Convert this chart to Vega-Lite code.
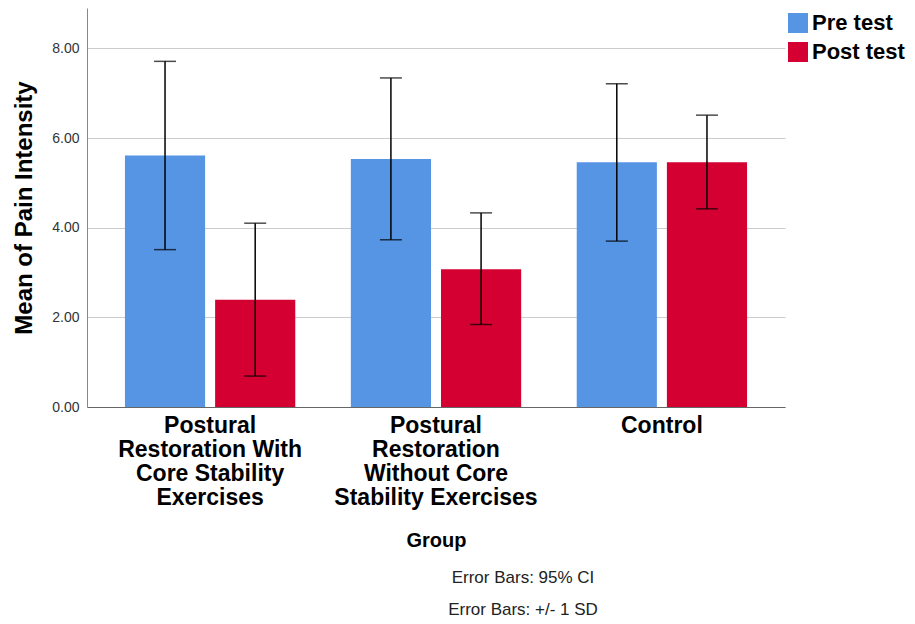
{
  "$schema": "https://vega.github.io/schema/vega-lite/v6.json",
  "width": 698,
  "height": 399,
  "autosize": "none",
  "padding": {"left": 87, "top": 8, "right": 130, "bottom": 217},
  "background": "white",
  "config": {
    "font": "Liberation Sans",
    "view": {"stroke": null},
    "title": {"font": "Liberation Sans"}
  },
  "title": {
    "text": "Error Bars: 95% CI",
    "subtitle": "Error Bars:  +/- 1 SD",
    "orient": "bottom",
    "anchor": "middle",
    "dx": 87,
    "offset": 20,
    "fontSize": 17,
    "fontWeight": "normal",
    "color": "#222222",
    "subtitleFontSize": 17,
    "subtitleColor": "#222222",
    "subtitlePadding": 15
  },
  "data": {
    "values": [
      {"group": "Postural Restoration With Core Stability Exercises", "test": "Pre test", "mean": 5.61, "lo": 3.51, "hi": 7.71},
      {"group": "Postural Restoration With Core Stability Exercises", "test": "Post test", "mean": 2.39, "lo": 0.69, "hi": 4.10},
      {"group": "Postural Restoration Without Core Stability Exercises", "test": "Pre test", "mean": 5.53, "lo": 3.73, "hi": 7.34},
      {"group": "Postural Restoration Without Core Stability Exercises", "test": "Post test", "mean": 3.07, "lo": 1.84, "hi": 4.33},
      {"group": "Control", "test": "Pre test", "mean": 5.46, "lo": 3.70, "hi": 7.21},
      {"group": "Control", "test": "Post test", "mean": 5.46, "lo": 4.42, "hi": 6.51}
    ]
  },
  "encoding": {
    "x": {
      "field": "group",
      "type": "nominal",
      "sort": ["Postural Restoration With Core Stability Exercises", "Postural Restoration Without Core Stability Exercises", "Control"],
      "scale": {"paddingInner": 0.246, "paddingOuter": 0.168},
      "axis": {
        "title": "Group",
        "titleFontSize": 20,
        "titleFontWeight": "bold",
        "titleColor": "#000000",
        "titlePadding": 21,
        "labelAngle": 0,
        "labelFontSize": 23,
        "labelFontWeight": "bold",
        "labelColor": "#000000",
        "labelLineHeight": 24,
        "labelPadding": 7,
        "labelLimit": 300,
        "ticks": false,
        "domainColor": "#666666",
        "labelExpr": "datum.value == 'Postural Restoration With Core Stability Exercises' ? ['Postural', 'Restoration With', 'Core Stability', 'Exercises'] : datum.value == 'Postural Restoration Without Core Stability Exercises' ? ['Postural', 'Restoration', 'Without Core', 'Stability Exercises'] : datum.value"
      }
    },
    "xOffset": {
      "field": "test",
      "type": "nominal",
      "sort": ["Pre test", "Post test"],
      "scale": {"paddingInner": 0.111, "paddingOuter": 0}
    }
  },
  "layer": [
    {
      "mark": {"type": "bar"},
      "encoding": {
        "y": {
          "field": "mean",
          "type": "quantitative",
          "scale": {"domain": [0, 8.9], "nice": false, "zero": true},
          "axis": {
            "title": "Mean of Pain Intensity",
            "titleFontSize": 24,
            "titleFontWeight": "bold",
            "titleColor": "#000000",
            "titlePadding": 15,
            "values": [0, 2, 4, 6, 8],
            "format": ".2f",
            "labelFontSize": 14,
            "labelColor": "#333333",
            "labelPadding": 8,
            "ticks": false,
            "grid": true,
            "gridColor": "#cccccc",
            "gridWidth": 1,
            "domainColor": "#888888"
          }
        },
        "color": {
          "field": "test",
          "type": "nominal",
          "sort": ["Pre test", "Post test"],
          "scale": {"domain": ["Pre test", "Post test"], "range": ["#5694E4", "#D50032"]},
          "legend": {
            "title": null,
            "orient": "none",
            "legendX": 700,
            "legendY": 4,
            "symbolType": "square",
            "symbolSize": 400,
            "symbolStrokeWidth": 0,
            "labelFontSize": 22,
            "labelFontWeight": "bold",
            "labelColor": "#000000",
            "labelOffset": 3,
            "labelLimit": 200,
            "rowPadding": 7
          }
        }
      }
    },
    {
      "mark": {"type": "rule", "color": "#000000", "strokeWidth": 1.5},
      "encoding": {
        "y": {"field": "lo", "type": "quantitative"},
        "y2": {"field": "hi"}
      }
    },
    {
      "mark": {"type": "tick", "color": "#000000", "size": 22, "thickness": 1.5},
      "encoding": {
        "y": {"field": "lo", "type": "quantitative"}
      }
    },
    {
      "mark": {"type": "tick", "color": "#000000", "size": 22, "thickness": 1.5},
      "encoding": {
        "y": {"field": "hi", "type": "quantitative"}
      }
    }
  ]
}
